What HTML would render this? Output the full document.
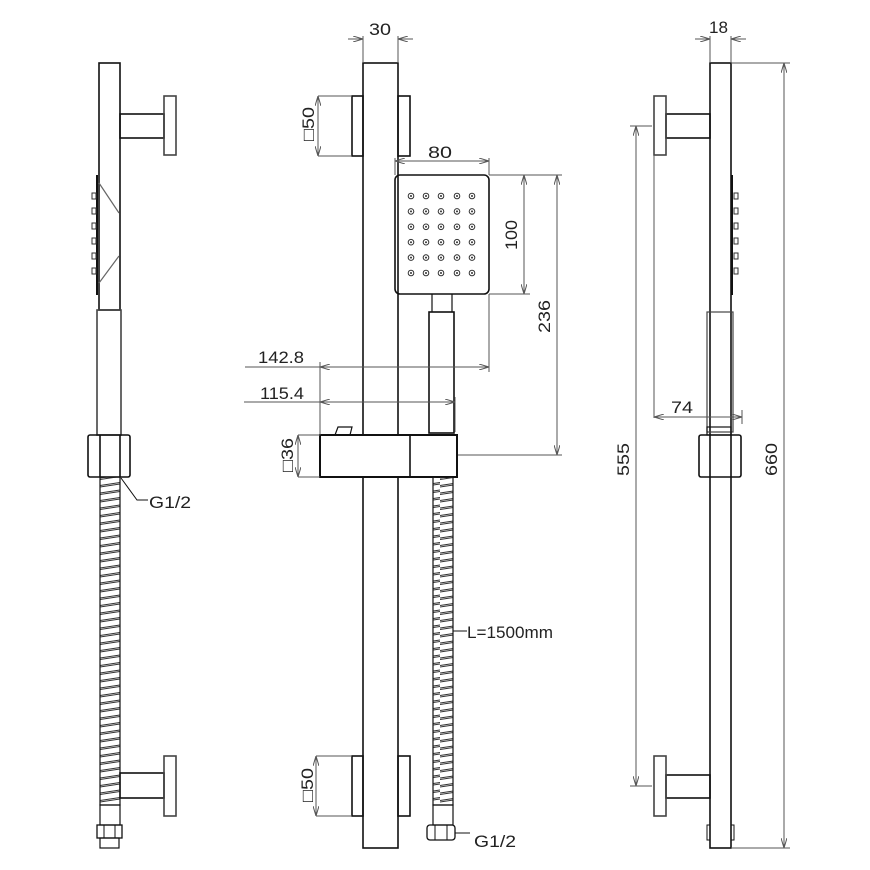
<!DOCTYPE html>
<html><head><meta charset="utf-8"><style>
html,body{margin:0;padding:0;background:#fff;}
svg{display:block;}
text{font-family:"Liberation Sans",sans-serif;fill:#222;font-size:17px;}
</style></head><body>
<svg width="870" height="870" viewBox="0 0 870 870" xmlns="http://www.w3.org/2000/svg">
<defs>
<pattern id="hose" width="20" height="7.5" patternUnits="userSpaceOnUse">
<path d="M0 5.5 L20 2.5 M0 7 L20 4" stroke="#333" stroke-width="0.9" fill="none"/>
</pattern>
<marker id="a" viewBox="0 0 10 6" refX="10" refY="3" markerWidth="10" markerHeight="6" orient="auto-start-reverse" markerUnits="userSpaceOnUse">
<path d="M0 0 L10 3 L0 6" fill="none" stroke="#555" stroke-width="1"/>
</marker>
</defs>
<g fill="none" stroke="#111" stroke-width="1.6">
<!-- LEFT VIEW -->
<rect x="99" y="63" width="21" height="247"/>
<rect x="120" y="114" width="44" height="24"/>
<rect x="164" y="96" width="12" height="59" stroke="#444"/>
<path d="M97 175 V295" stroke-width="2"/>
<path d="M99 183 L119 213 M119 256 L99 283" stroke="#666" stroke-width="1.2"/>
<rect x="97" y="310" width="24" height="125" stroke="#444"/>
<rect x="88" y="435" width="42" height="42" rx="2"/>
<path d="M100 435 V477 M120 435 V477"/>
<rect x="100" y="477" width="20" height="328" fill="url(#hose)" stroke-width="1.2"/>
<rect x="100" y="805" width="20" height="20" stroke-width="1.2"/>
<rect x="120" y="773" width="44" height="25"/>
<rect x="164" y="756" width="12" height="60" stroke="#444"/>
<rect x="97" y="825" width="25" height="13" stroke-width="1.3"/>
<path d="M104 825 V838 M115 825 V838" stroke-width="1"/>
<rect x="100" y="838" width="19" height="10" stroke-width="1.2"/>
<path d="M121 478 L137 500 H148" stroke-width="1"/>
<!-- MIDDLE VIEW -->
<rect x="363" y="63" width="35" height="372"/>
<rect x="352" y="96" width="11" height="60"/>
<rect x="398" y="96" width="12" height="60"/>
<rect x="395" y="175" width="94" height="119" rx="5"/>
<path d="M432 294 V312 M452 294 V312" stroke-width="1.2"/>
<rect x="429" y="312" width="25" height="121"/>
<rect x="320" y="435" width="137" height="42" stroke-width="2"/>
<path d="M410 435 V477"/>
<path d="M335 435 L338 427 H352 L350 435" stroke-width="1.2"/>
<rect x="363" y="477" width="35" height="371"/>
<rect x="433" y="477" width="20" height="328" fill="url(#hose)" stroke-width="1.2"/>
<rect x="433" y="805" width="20" height="20" stroke-width="1.2"/>
<rect x="427" y="825" width="28" height="15" rx="3" stroke-width="1.3"/>
<path d="M435 825 V840 M447 825 V840" stroke-width="1"/>
<rect x="352" y="756" width="11" height="60"/>
<rect x="398" y="756" width="12" height="60"/>
<path d="M455 833 H470 M453 631 H467" stroke-width="1"/>
<!-- RIGHT VIEW -->
<rect x="710" y="63" width="21" height="785"/>
<rect x="666" y="114" width="44" height="24"/>
<rect x="654" y="96" width="12" height="59" stroke="#444"/>
<rect x="666" y="775" width="44" height="23"/>
<rect x="654" y="756" width="12" height="60" stroke="#444"/>
<path d="M732 175 V295" stroke-width="2"/>
<rect x="707" y="312" width="26" height="120" stroke="#444" stroke-width="1.2"/>
<rect x="707" y="427" width="24" height="8" stroke-width="1.2"/>
<rect x="699" y="435" width="42" height="42" rx="2"/>
<rect x="707" y="825" width="3" height="15" stroke-width="1"/>
<rect x="731" y="825" width="3" height="15" stroke-width="1"/>
</g>
<!-- nozzles -->
<g fill="none" stroke="#333" stroke-width="1">
<path d="M92 193 h4 v6 h-4 z M92 208 h4 v6 h-4 z M92 223 h4 v6 h-4 z M92 238 h4 v6 h-4 z M92 253 h4 v6 h-4 z M92 268 h4 v6 h-4 z"/>
<path d="M734 193 h4 v6 h-4 z M734 208 h4 v6 h-4 z M734 223 h4 v6 h-4 z M734 238 h4 v6 h-4 z M734 253 h4 v6 h-4 z M734 268 h4 v6 h-4 z"/>
</g>
<g id="row">
<g fill="#fff" stroke="#333" stroke-width="1">
<circle cx="411" cy="196" r="2.8"/><circle cx="426" cy="196" r="2.8"/><circle cx="441" cy="196" r="2.8"/><circle cx="457" cy="196" r="2.8"/><circle cx="472" cy="196" r="2.8"/>
</g>
<g fill="#333">
<circle cx="411" cy="196" r="1"/><circle cx="426" cy="196" r="1"/><circle cx="441" cy="196" r="1"/><circle cx="457" cy="196" r="1"/><circle cx="472" cy="196" r="1"/>
</g>
</g>
<use href="#row" y="15.4"/><use href="#row" y="30.8"/><use href="#row" y="46.2"/><use href="#row" y="61.6"/><use href="#row" y="77"/>
<!-- dimensions -->
<g stroke="#555" stroke-width="1" fill="none">
<path d="M363 36 V63 M398 36 V63"/>
<path d="M348 39 H363" marker-end="url(#a)"/><path d="M413 39 H398" marker-end="url(#a)"/>
<path d="M318 96 H352 M318 156 H352"/>
<path d="M318 96 V156" marker-start="url(#a)" marker-end="url(#a)"/>
<path d="M316 756 H352 M316 816 H352"/>
<path d="M316 756 V816" marker-start="url(#a)" marker-end="url(#a)"/>
<path d="M395 158 V175 M489 158 V175"/>
<path d="M395 161 H489" marker-start="url(#a)" marker-end="url(#a)"/>
<path d="M489 175 H562 M489 294 H530"/>
<path d="M524 175 V294" marker-start="url(#a)" marker-end="url(#a)"/>
<path d="M557 175 V455" marker-start="url(#a)" marker-end="url(#a)"/>
<path d="M458 455 H562"/>
<path d="M320 362 V435 M489 294 V372 M455 397 V432"/>
<path d="M245 367 H320"/><path d="M320 367 H489" marker-start="url(#a)" marker-end="url(#a)"/>
<path d="M244 402 H320"/><path d="M320 402 H455" marker-start="url(#a)" marker-end="url(#a)"/>
<path d="M298 435 H320 M298 477 H320"/>
<path d="M298 435 V477" marker-start="url(#a)" marker-end="url(#a)"/>
<path d="M710 36 V63 M731 36 V63"/>
<path d="M695 39 H710" marker-end="url(#a)"/><path d="M746 39 H731" marker-end="url(#a)"/>
<path d="M731 63 H790 M731 848 H790"/>
<path d="M784 63 V848" marker-start="url(#a)" marker-end="url(#a)"/>
<path d="M630 126 H652 M630 786 H652"/>
<path d="M636 126 V786" marker-start="url(#a)" marker-end="url(#a)"/>
<path d="M654 155 V418 M742 410 V424"/>
<path d="M654 417 H742" marker-start="url(#a)" marker-end="url(#a)"/>
</g>
<!-- labels -->
<text x="369" y="35" textLength="22" lengthAdjust="spacingAndGlyphs">30</text>
<text x="709" y="33" textLength="19" lengthAdjust="spacingAndGlyphs">18</text>
<text x="428" y="158" textLength="24" lengthAdjust="spacingAndGlyphs">80</text>
<text x="258" y="363" textLength="46" lengthAdjust="spacingAndGlyphs">142.8</text>
<text x="260" y="399" textLength="44" lengthAdjust="spacingAndGlyphs">115.4</text>
<text x="671" y="413" textLength="22" lengthAdjust="spacingAndGlyphs">74</text>
<text x="149" y="508" textLength="42" lengthAdjust="spacingAndGlyphs">G1/2</text>
<text x="474" y="847" textLength="42" lengthAdjust="spacingAndGlyphs">G1/2</text>
<text x="467" y="638" textLength="86" lengthAdjust="spacingAndGlyphs">L=1500mm</text>
<text transform="translate(517,250) rotate(-90)" textLength="30" lengthAdjust="spacingAndGlyphs">100</text>
<text transform="translate(550,333) rotate(-90)" textLength="33" lengthAdjust="spacingAndGlyphs">236</text>
<text transform="translate(629,476) rotate(-90)" textLength="33" lengthAdjust="spacingAndGlyphs">555</text>
<text transform="translate(777,476) rotate(-90)" textLength="33" lengthAdjust="spacingAndGlyphs">660</text>
<text transform="translate(314,141) rotate(-90)" textLength="34" lengthAdjust="spacingAndGlyphs">□50</text>
<text transform="translate(313,802) rotate(-90)" textLength="34" lengthAdjust="spacingAndGlyphs">□50</text>
<text transform="translate(293,472) rotate(-90)" textLength="34" lengthAdjust="spacingAndGlyphs">□36</text>
</svg>
</body></html>
